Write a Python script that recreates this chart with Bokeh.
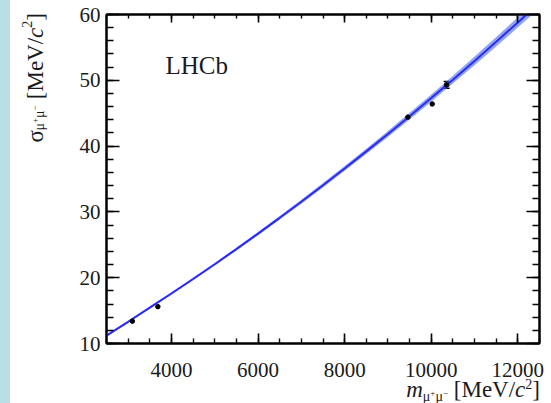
from bokeh.plotting import figure
from bokeh.models import (Range1d, SingleIntervalTicker, LinearAxis, Label,
                          Div, ColumnDataSource, Whisker, TeeHead)
from bokeh.layouts import row, column
from bokeh.embed import file_html
from bokeh.resources import INLINE

# ---- data ----
masses = [3097, 3686, 9460, 10023, 10355]
sigmas = [13.4, 15.6, 44.4, 46.4, 49.3]
errors = [0.1, 0.15, 0.2, 0.25, 0.5]

curve_m = [2500, 3000, 3500, 4000, 4500, 5000, 5500, 6000, 6500, 7000, 7500,
           8000, 8500, 9000, 9500, 10000, 10500, 11000, 11500, 12000, 12500]
curve_s = [11.2, 13.3, 15.45, 17.6, 19.8, 22.05, 24.35, 26.7, 29.1, 31.55, 34.05,
           36.6, 39.2, 41.85, 44.55, 47.3, 50.1, 52.95, 55.85, 58.8, 61.8]
band_half = [0.15, 0.15, 0.16, 0.17, 0.18, 0.2, 0.22, 0.24, 0.27, 0.3, 0.33,
             0.36, 0.4, 0.45, 0.5, 0.55, 0.6, 0.66, 0.72, 0.78, 0.84]

x_ticks = [4000, 6000, 8000, 10000, 12000]
y_ticks = [10, 20, 30, 40, 50, 60]

FONT = "Liberation Serif"
TXT = "#1a1a1a"

p = figure(width=501, height=386, output_backend="svg", toolbar_location=None,
           x_range=Range1d(2500, 12500), y_range=Range1d(10, 60),
           min_border_left=56, min_border_right=12, min_border_top=14, min_border_bottom=43,
           background_fill_color="white", border_fill_color="white", margin=0)
p.grid.visible = False
p.outline_line_color = "black"
p.outline_line_width = 2

def style(ax, tick_in, minor_in, labels=True):
    ax.major_tick_in = tick_in
    ax.major_tick_out = 0
    ax.minor_tick_in = minor_in
    ax.minor_tick_out = 0
    ax.axis_line_color = "black"
    ax.axis_line_width = 2
    ax.major_tick_line_width = 1.6
    ax.minor_tick_line_width = 1.4
    ax.major_tick_line_color = "black"
    ax.minor_tick_line_color = "black"
    ax.major_label_text_font = FONT
    ax.major_label_text_font_size = "21px" if labels else "0px"
    ax.major_label_text_color = TXT if labels else None

xa = p.xaxis[0]
xa.ticker = SingleIntervalTicker(interval=2000, num_minor_ticks=4)
style(xa, 10, 5)
xa.major_label_standoff = 19
ya = p.yaxis[0]
ya.ticker = SingleIntervalTicker(interval=10, num_minor_ticks=5)
style(ya, 13, 7)
ya.major_label_standoff = 6

top = LinearAxis(ticker=SingleIntervalTicker(interval=2000, num_minor_ticks=4))
style(top, 8, 4, labels=False)
top.major_label_standoff = 0
p.add_layout(top, "above")
right = LinearAxis(ticker=SingleIntervalTicker(interval=10, num_minor_ticks=5))
style(right, 13, 7, labels=False)
right.major_label_standoff = 0
p.add_layout(right, "right")

# band and fitted curve
lo = [s - h for s, h in zip(curve_s, band_half)]
hi = [s + h for s, h in zip(curve_s, band_half)]
p.varea(x=curve_m, y1=lo, y2=hi, fill_color="#4a6ae0", fill_alpha=0.6)
p.line(curve_m, curve_s, line_color="#2b2bf5", line_width=2)

# data points; error bars drawn where they are visible
src = ColumnDataSource(dict(x=masses, y=sigmas))
big = [i for i, e in enumerate(errors) if e >= 0.3]
esrc = ColumnDataSource(dict(x=[masses[i] for i in big],
                             lo=[sigmas[i] - errors[i] for i in big],
                             hi=[sigmas[i] + errors[i] for i in big]))
w = Whisker(source=esrc, base="x", lower="lo", upper="hi", line_color="black", line_width=1.5,
            upper_head=TeeHead(size=6, line_color="black", line_width=1.5),
            lower_head=TeeHead(size=6, line_color="black", line_width=1.5))
p.add_layout(w)
p.scatter("x", "y", source=src, size=4.5, color="black")

# LHCb label (screen units relative to the frame)
p.add_layout(Label(x=59, y=278, x_units="screen", y_units="screen", text="LHCb",
                   text_font=FONT, text_font_size="25px", text_color=TXT,
                   text_align="left", text_baseline="alphabetic"))

SUB = "font-size:14px;line-height:0;vertical-align:-4px"
SUPS = "font-size:14px;line-height:0;vertical-align:8px"
SUP = "font-size:9px;line-height:0;vertical-align:5px"
title_core = (f'<span style="{SUB}">μ<span style="{SUP}">+</span>μ<span style="{SUP}">−</span></span>'
              f' [MeV/<i>c</i><span style="{SUPS}">2</span>]')

y_html = ('<div style="position:relative;width:40px;height:386px;">'
          '<div style="position:absolute;left:14px;top:13px;writing-mode:vertical-rl;'
          "transform:rotate(180deg);font-family:'Liberation Serif';font-size:23px;"
          'line-height:24px;color:#1a1a1a;white-space:nowrap;">'
          'σ' + title_core + '</div></div>')
x_html = ('<div style="width:530px;text-align:right;position:relative;top:-7px;'
          "font-family:'Liberation Serif';font-size:23px;line-height:22px;"
          'color:#1a1a1a;white-space:nowrap;">'
          '<i>m</i>' + title_core + '</div>')

ydiv = Div(text=y_html, width=40, height=386, margin=0, styles={"overflow": "visible"})
xdiv = Div(text=x_html, width=541, height=17, margin=0, styles={"overflow": "visible"})
strip = Div(width=10, height=403, margin=0, styles={"background-color": "#b8dfe3"})

layout = row(strip, column(row(ydiv, p, margin=0), xdiv, margin=0), margin=0)

open("out.html", "w").write(file_html(layout, INLINE))
